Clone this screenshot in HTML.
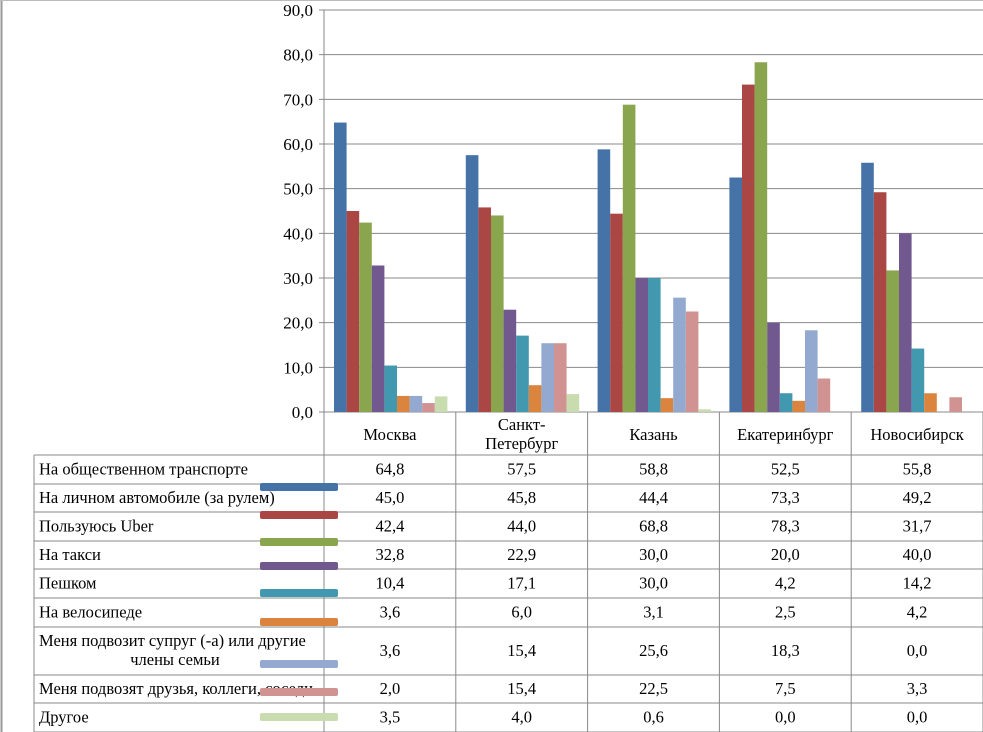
<!DOCTYPE html>
<html><head><meta charset="utf-8"><style>
body{margin:0;background:#fff;}
svg{display:block;}
svg text{font-family:"Liberation Serif","DejaVu Serif",serif;}
</style></head><body>
<svg id="c" width="983" height="732" xmlns="http://www.w3.org/2000/svg"></svg>
<script>
const categories=["Москва","Санкт-Петербург","Казань","Екатеринбург","Новосибирск"];
const seriesNames=["На общественном транспорте","На личном автомобиле (за рулем)","Пользуюсь Uber","На такси","Пешком","На велосипеде","Меня подвозит супруг (-а) или другие члены семьи","Меня подвозят друзья, коллеги, соседи","Другое"];
const colors=["#4572a7","#aa4643","#89a54e","#71588f","#4198af","#db843d","#93a9cf","#d19392","#c9dcb0"];
const s1=[64.8,57.5,58.8,52.5,55.8];
const s2=[45.0,45.8,44.4,73.3,49.2];
const s3=[42.4,44.0,68.8,78.3,31.7];
const s4=[32.8,22.9,30.0,20.0,40.0];
const s5=[10.4,17.1,30.0,4.2,14.2];
const s6=[3.6,6.0,3.1,2.5,4.2];
const s7=[3.6,15.4,25.6,18.3,0.0];
const s8=[2.0,15.4,22.5,7.5,3.3];
const s9=[3.5,4.0,0.6,0.0,0.0];
const series=[s1,s2,s3,s4,s5,s6,s7,s8,s9];
const yTicks=[0,10,20,30,40,50,60,70,80,90];

const NS="http://www.w3.org/2000/svg";
const svg=document.getElementById('c');
const FF='"Liberation Serif","DejaVu Serif",serif';
const FS=16.5;
function mk(t,a,p){const e=document.createElementNS(NS,t);for(const k in a)e.setAttribute(k,a[k]);if(t==='text')e.setAttribute('font-family',FF);(p||svg).appendChild(e);return e;}
const x0=324,x1=983,yb=412,yt=10;
const y=v=>yb-(v/90)*(yb-yt);
const cw=(x1-x0)/categories.length;
const cx=i=>x0+i*cw;
mk('line',{x1:1.5,y1:0,x2:1.5,y2:732,stroke:'#999','stroke-width':2});
mk('line',{x1:0,y1:0.5,x2:983,y2:0.5,stroke:'#bbb','stroke-width':1});
yTicks.forEach(t=>{
  const yy=y(t);
  const g=mk('line',{x1:319,y1:yy,x2:x1,y2:yy,stroke:'#888','stroke-width':1});
  
  
  const tx=mk('text',{x:313,y:yy+6,'text-anchor':'end','font-size':17,fill:'#000'});
  tx.textContent=t.toFixed(1).replace('.',',');
  
  
});
mk('line',{x1:x0,y1:yt,x2:x0,y2:732,stroke:'#888','stroke-width':1});
const bw=12.6;
categories.forEach((c,i)=>{
  series.forEach((s,j)=>{
    const v=s[i];
    const r=mk('rect',{x:cx(i)+10+j*bw,y:y(v),width:bw,height:yb-y(v),fill:colors[j]});
    
    
  });
});
const rows=[455,484,512,541,569,598,627,675,703,732];
const keyY=[487,515,542,566,593,622,664,692,717];
for(let i=0;i<=categories.length;i++){mk('line',{x1:cx(i),y1:yb,x2:cx(i),y2:732,stroke:'#888'});}
mk('line',{x1:34,y1:455,x2:34,y2:732,stroke:'#888'});
rows.forEach(r=>mk('line',{x1:34,y1:r,x2:x1,y2:r,stroke:'#888'}));
categories.forEach((c,i)=>{
  const m=cx(i)+cw/2;
  const t=mk('text',{x:m,'text-anchor':'middle','font-size':FS,fill:'#000'});
  
  
  if(c==="Санкт-Петербург"){t.setAttribute('y',430);t.textContent="Санкт-";const t2=mk('text',{x:m,y:449,'text-anchor':'middle','font-size':FS});t2.textContent="Петербург";}
  else{t.setAttribute('y',440);t.textContent=c;}
});
seriesNames.forEach((n,j)=>{
  const top=rows[j],bot=rows[j+1],mid=(top+bot)/2;
  if(j===6){
    const a=mk('text',{x:39,y:mid-5,'font-size':FS});a.textContent="Меня подвозит супруг (-а) или другие";
    const b=mk('text',{x:175,y:mid+14,'text-anchor':'middle','font-size':FS});b.textContent="члены семьи";
  } else {
    const a=mk('text',{x:39,y:mid+5,'font-size':FS});a.textContent=n;
    
    
  }
  const k=mk('rect',{x:260,y:keyY[j]-4,width:78,height:8,rx:2,fill:colors[j]});
  
  
  series[j].forEach((v,i)=>{
    const t=mk('text',{x:cx(i)+cw/2,y:mid+5,'text-anchor':'middle','font-size':FS});
    t.textContent=v.toFixed(1).replace('.',',');
    
    
  });
});
</script>
</body></html>
